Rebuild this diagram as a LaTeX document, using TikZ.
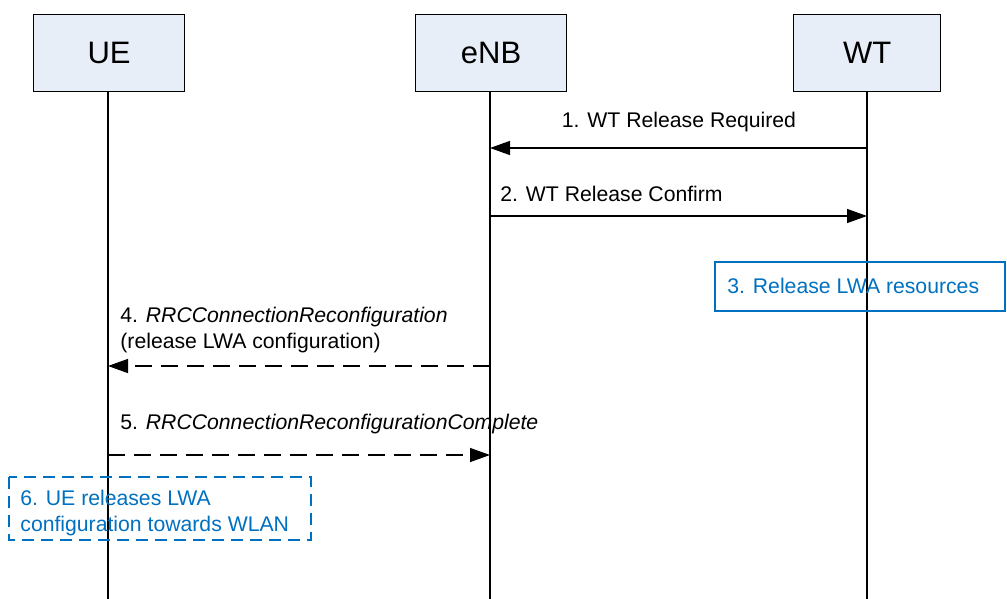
\documentclass[tikz,border=0pt]{standalone}
\usepackage{fontspec}
\setmainfont{Liberation Sans}
\usetikzlibrary{arrows.meta}
\definecolor{cnote}{HTML}{0070C0}
\definecolor{cbox}{HTML}{E8EEF7}
\tikzset{
  every picture/.style={>={Triangle[length=10pt,width=7pt]}, font=\fontsize{10.6}{13}\selectfont},
  entity/.style={draw, line width=0.6pt, fill=cbox, minimum width=75.5pt, minimum height=38.5pt,
    anchor=north west, inner sep=0pt, font=\fontsize{15.5}{18}\selectfont},
  life/.style={line width=0.6pt},
  msg/.style={->, line width=0.7pt},
  msgd/.style={msg, dash pattern=on 8.5pt off 4.5pt},
  lbl/.style={inner sep=0pt, align=left},
  note/.style={draw=cnote, line width=0.6pt},
  notetext/.style={lbl, text=cnote},
}
\begin{document}
\begin{tikzpicture}[x=0.5pt,y=-0.5pt]
  \useasboundingbox (0,0) rectangle (1007,599);
  % entities
  \node[entity] (ue) at (33,14) {UE};
  \node[entity] (enb) at (415,14) {eNB};
  \node[entity, minimum width=73.5pt] (wt) at (793,14) {WT};
  \coordinate (ue-end) at (108,599);
  \coordinate (enb-end) at (490,599);
  \coordinate (wt-end) at (867,599);
  \draw[life] (ue-end |- ue.south) -- (ue-end);
  \draw[life] (enb-end |- enb.south) -- (enb-end);
  \draw[life] (wt-end |- wt.south) -- (wt-end);
  % points on the lifelines
  \coordinate (wt1) at (867,148);  \coordinate (enb1) at (490,148);
  \coordinate (enb2) at (490,216); \coordinate (wt2) at (867,216);
  \coordinate (enb4) at (490,366); \coordinate (ue4) at (108,366);
  \coordinate (ue5) at (108,455);  \coordinate (enb5) at (490,455);
  % messages
  \draw[msg] (wt1) -- (enb1);
  \node[lbl, anchor=base] (m1) at (679,128) {1. WT Release Required};
  \draw[msg] (enb2) -- (wt2);
  \node[lbl, anchor=base west] (m2) at (500,201) {2. WT Release Confirm};
  \draw[note] (715,262) rectangle (1005,311);
  \node[notetext, anchor=base west] (n3) at (727,293) {3. Release LWA resources};
  \draw[msgd] (enb4) -- (ue4);
  \node[lbl, anchor=base west] (m4) at (120,348) {4. \textit{RRCConnectionReconfiguration}\\(release LWA configuration)};
  \draw[msgd] (ue5) -- (enb5);
  \node[lbl, anchor=base west] (m5) at (120,429) {5. \textit{RRCConnectionReconfigurationComplete}};
  \draw[note, dash pattern=on 6pt off 3.5pt] (9,477) rectangle (311,540);
  \node[notetext, anchor=base west] (n6) at (20,531) {6. UE releases LWA\\configuration towards WLAN};
\end{tikzpicture}
\end{document}
